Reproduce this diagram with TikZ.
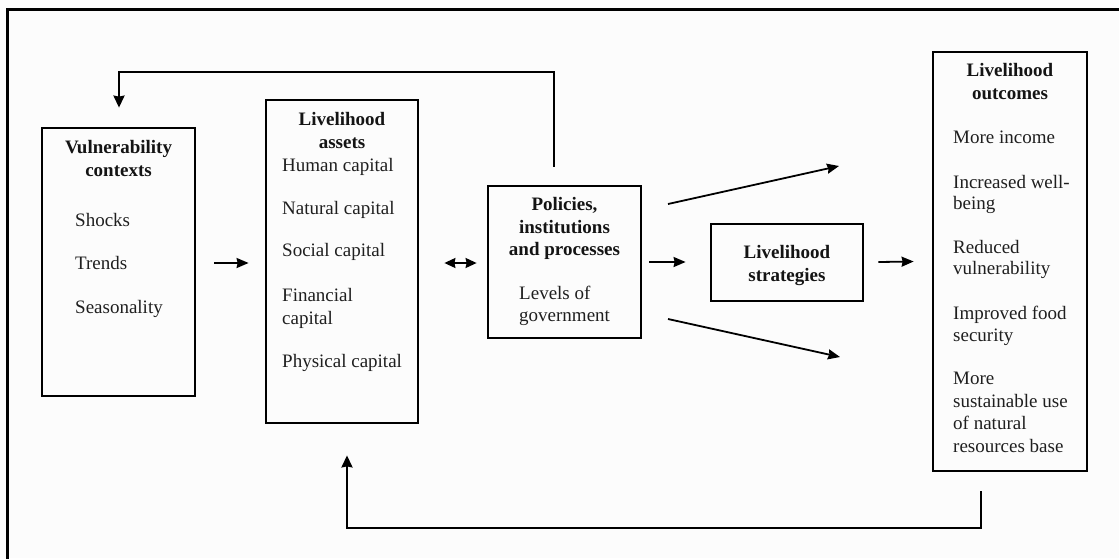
\documentclass[tikz,border=0pt]{standalone}
\usepackage{fontspec}
\setmainfont{Liberation Serif}
\usetikzlibrary{arrows.meta}
\begin{document}
\begin{tikzpicture}[x=1pt,y=-1pt,
  box/.style={draw, line width=2.8pt, inner sep=0pt},
  txt/.style={inner sep=0pt, text=black!88, font=\fontsize{19}{22}\selectfont},
  ttl/.style={inner sep=0pt, text=black!92, font=\fontsize{19}{22}\selectfont\bfseries},
  tip/.style={Stealth[length=12pt,width=10pt,inset=1pt]},
  arr/.style={line width=1.8pt, -{Stealth[length=12pt,width=10pt,inset=1pt]}},
  dbl/.style={line width=1.8pt, {Stealth[length=11pt,width=10pt,inset=1pt]}-{Stealth[length=11pt,width=10pt,inset=1pt]}},
  loop/.style={line width=2.2pt, -{Stealth[length=12pt,width=11pt,inset=1pt]}}]
\useasboundingbox (0,0) rectangle (1119,558);
\fill[white!99!black] (0,0) rectangle (1119,558);

% outer frame (top and left edges only)
\draw[line width=3pt] (7,565) -- (7,9) -- (1125,9);

% boxes
\node[box, minimum width=153pt, minimum height=268pt] (vuln) at (118.5,262) {};
\node[box, minimum width=152pt, minimum height=323pt] (assets) at (342,261.5) {};
\node[box, minimum width=153pt, minimum height=152pt] (policy) at (564.5,262) {};
\node[box, minimum width=152pt, minimum height=77pt] (strat) at (787,262.5) {};
\node[box, minimum width=154pt, minimum height=419pt] (outc) at (1010,261.5) {};

% vulnerability contexts
\node[ttl, anchor=base] (v1) at (118.5,153) {Vulnerability};
\node[ttl, anchor=base] (v2) at (118.5,176) {contexts};
\node[txt, anchor=base west] (v3) at (75,226) {Shocks};
\node[txt, anchor=base west] (v4) at (75,269) {Trends};
\node[txt, anchor=base west] (v5) at (75,313) {Seasonality};

% livelihood assets
\node[ttl, anchor=base] (a1) at (342,125) {Livelihood};
\node[ttl, anchor=base] (a2) at (342,148) {assets};
\node[txt, anchor=base west] (a3) at (282,171) {Human capital};
\node[txt, anchor=base west] (a4) at (282,214) {Natural capital};
\node[txt, anchor=base west] (a5) at (282,256) {Social capital};
\node[txt, anchor=base west] (a6) at (282,301) {Financial};
\node[txt, anchor=base west] (a7) at (282,324) {capital};
\node[txt, anchor=base west] (a8) at (282,367) {Physical capital};

% policies, institutions and processes
\node[ttl, anchor=base] (p1) at (564.5,210) {Policies,};
\node[ttl, anchor=base] (p2) at (564.5,233) {institutions};
\node[ttl, anchor=base] (p3) at (564.5,255) {and processes};
\node[txt, anchor=base west] (p4) at (519,299) {Levels of};
\node[txt, anchor=base west] (p5) at (519,321) {government};

% livelihood strategies
\node[ttl, anchor=base] (s1) at (787,258) {Livelihood};
\node[ttl, anchor=base] (s2) at (787,281) {strategies};

% livelihood outcomes
\node[ttl, anchor=base] (o1) at (1010,76) {Livelihood};
\node[ttl, anchor=base] (o2) at (1010,99) {outcomes};
\node[txt, anchor=base west] (o3) at (953,143) {More income};
\node[txt, anchor=base west] (o4) at (953,188) {Increased well-};
\node[txt, anchor=base west] (o5) at (953,209) {being};
\node[txt, anchor=base west] (o6) at (953,253) {Reduced};
\node[txt, anchor=base west] (o7) at (953,274) {vulnerability};
\node[txt, anchor=base west] (o8) at (953,319) {Improved food};
\node[txt, anchor=base west] (o9) at (953,341) {security};
\node[txt, anchor=base west] (o10) at (953,384) {More};
\node[txt, anchor=base west] (o11) at (953,407) {sustainable use};
\node[txt, anchor=base west] (o12) at (953,429) {of natural};
\node[txt, anchor=base west] (o13) at (953,452) {resources base};

% horizontal flow
\draw[arr] ([xshift=18pt,yshift=-1pt]vuln.east) -- ([xshift=-16pt,yshift=-1.5pt]assets.west);
\draw[dbl] ([xshift=25pt,yshift=-1.5pt]assets.east) -- ([xshift=-10pt,yshift=-1pt]policy.west);
\draw[arr] ([xshift=7pt]policy.east) -- ([xshift=-24pt,yshift=0.5pt]strat.west);
\draw[arr] ([xshift=14pt,yshift=0.5pt]strat.east) -- ([xshift=-18pt]outc.west);

% diverging arrows
\coordinate (upS) at (668,204);
\coordinate (upT) at (839,166);
\coordinate (dnS) at (668,319);
\coordinate (dnT) at (840,357);
\draw[arr] (upS) -- (upT);
\draw[arr] (dnS) -- (dnT);

% feedback loops
\coordinate (topR) at (554,72);
\coordinate (topL) at (119,72);
\draw[loop] ([xshift=-10.5pt,yshift=18pt]policy.north) -- (topR) -- (topL) -- ([xshift=0.5pt,yshift=19pt]vuln.north);
\coordinate (botR) at (981,528);
\coordinate (botL) at (347,528);
\draw[loop] ([xshift=-29pt,yshift=-19pt]outc.south) -- (botR) -- (botL) -- ([xshift=5pt,yshift=-31pt]assets.south);
\end{tikzpicture}
\end{document}
